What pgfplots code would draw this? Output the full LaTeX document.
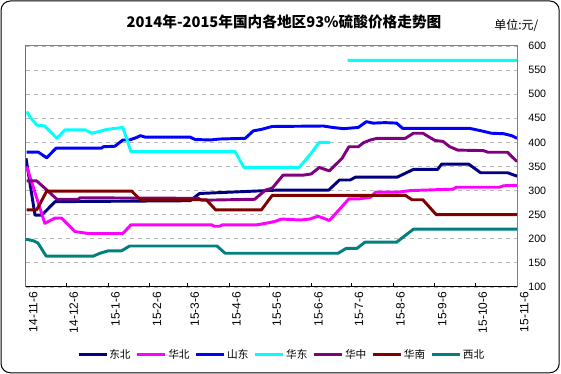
\documentclass[border=0pt]{standalone}
\usepackage{fontspec}
\setmainfont{Liberation Sans}
\newfontfamily\cjk{Noto Sans CJK SC}
\usepackage{pgfplots}
\pgfplotsset{compat=1.18}
\definecolor{cDB}{RGB}{0,0,128}
\definecolor{cHB}{RGB}{255,0,255}
\definecolor{cSD}{RGB}{0,0,255}
\definecolor{cHD}{RGB}{0,255,255}
\definecolor{cHZ}{RGB}{128,0,128}
\definecolor{cHN}{RGB}{128,0,0}
\definecolor{cXB}{RGB}{0,128,128}
\begin{document}
\begin{tikzpicture}
\useasboundingbox (0,0) rectangle (420.75pt,280.5pt);
\draw[line width=0.75pt, rounded corners=7pt] (0.75pt,0.9pt) rectangle (419.4pt,279.75pt);
\node[font=\cjk\bfseries\fontsize{11}{13}\selectfont] at (213pt,264pt) {2014年-2015年国内各地区93\%硫酸价格走势图};
\node[font=\cjk\fontsize{9}{11}\selectfont, anchor=west, inner sep=0pt] at (370.5pt,261.5pt) {单位:元/};
\begin{axis}[
  at={(19.5pt,65.25pt)}, anchor=south west,
  scale only axis, width=368.25pt, height=180.75pt,
  xmin=0, xmax=365, ymin=100, ymax=600,
  xtick={0,30,61,92,120,151,181,212,242,273,304,334,365},
  xticklabels={14-11-6,14-12-6,15-1-6,15-2-6,15-3-6,15-4-6,15-5-6,15-6-6,15-7-6,15-8-6,15-9-6,15-10-6,15-11-6},
  ytick={100,150,...,600},
  ymajorgrids,
  grid style={dashed, gray!55, line width=0.6pt, dash pattern=on 3pt off 3pt},
  axis line style={draw=gray, line width=0.75pt},
  tick align=inside,
  xtick pos=lower,
  ytick pos=right,
  yticklabel pos=right,
  ytick style={draw=none},
  xtick style={black, line width=0.75pt},
  major tick length=3pt,
  /pgf/number format/assume math mode=true,
  ticklabel style={font=\fontsize{8}{9}\selectfont},
  yticklabel style={anchor=west, xshift=5pt},
  xticklabel style={rotate=90, anchor=east, yshift=-5.5pt, font=\fontsize{9}{10}\selectfont},
  unbounded coords=jump,
  legend columns=7,
  legend style={at={(0.52,-0.282)}, anchor=center, draw=none, fill=none,
    font=\cjk\fontsize{8}{9}\selectfont,
    /tikz/every even column/.append style={column sep=3pt},
    nodes={inner sep=1pt}},
  legend image code/.code={\draw[#1,line width=2.2pt] (0pt,0pt) -- (21pt,0pt);},
  every axis plot/.append style={line width=2.2pt, mark=none, line join=round},
]
\addplot[cDB] coordinates {(0,367)(6.7,249)(11.7,249)(21.6,277)(122,279)(129,294)(187,301)(225,301)(233,322)(241,322)(245,328)(276,328)(288,344)(306,344)(309,355)(329,355)(338,337)(358,337)(365,330)};
\addlegendentry{东北}
\addplot[cHB] coordinates {(0.5,350)(14,232)(21.6,243)(26.5,243)(36.4,215)(46.3,211)(72,211)(78,229)(138,229)(140,226)(144,226)(146,229)(171.5,229)(178,232)(185,236)(190,241)(204,239)(211,241)(217,247)(225.5,238)(235,267)(240,283)(248,283)(256,286)(260,297)(277,297)(285.5,300)(317.5,303)(320,307)(352,307)(355,310)(365,311)};
\addlegendentry{华北}
\addplot[cSD] coordinates {(0.5,380)(9,380)(15.4,368)(22.3,388)(56,388)(57.5,391)(66,392)(72,405)(77,405)(82,410)(85,414)(88.5,411)(122,411)(125.7,406)(137,405)(144,407)(163,408.5)(169,424)(175,427)(183,433)(221,434)(228,431)(236,428.5)(247,431)(253,443)(258,440)(267,441)(275.5,440)(280,429)(330,429)(335,426)(340,423)(346,419)(355,418)(361,414)(365,408.5)};
\addlegendentry{山东}
\addplot[cHD] coordinates {(0.5,464)(3,453)(8,436)(14,434)(23,408.5)(29,426)(44,426)(49,419)(55,423)(60,427)(72,431)(78,381)(155.4,381)(162,348)(203,348)(211,374)(218,400)(226,400)(232,nan)(239,570)(365,570)};
\addlegendentry{华东}
\addplot[cHZ] coordinates {(0.5,320)(8,320)(14,305)(23,282)(39,282)(40,285)(128,284)(130.6,280)(170,282)(178,301)(183,305)(189,325)(191,332)(206,332)(212,334.5)(218,348)(225.5,341)(235,367)(240,391)(247,391)(251,399.5)(256,405)(261,408.5)(282,408.5)(288,419)(295,419)(304,404)(310,402)(315,391)(321,384)(340,383)(343.5,379.5)(358,379.5)(365,360)};
\addlegendentry{华中}
\addplot[cHN] coordinates {(0.5,260)(8,260)(15.4,299)(78.6,299)(85,281)(134,281)(141,260)(175,260)(183,290)(282,290)(287,281)(295,281)(305,250)(365,250)};
\addlegendentry{华南}
\addplot[cXB] coordinates {(0,199)(5.4,196)(9,191)(15,164)(50,164)(55,170)(61,175)(71,175)(77,185)(142,185)(148,170)(232,170)(238,180)(246,180)(252,193)(275.5,193)(288,220)(365,220)};
\addlegendentry{西北}
\draw[black, line width=0.75pt] (rel axis cs:0,1) -- (rel axis cs:0,0) -- (rel axis cs:1,0);
\end{axis}
\end{tikzpicture}
\end{document}
